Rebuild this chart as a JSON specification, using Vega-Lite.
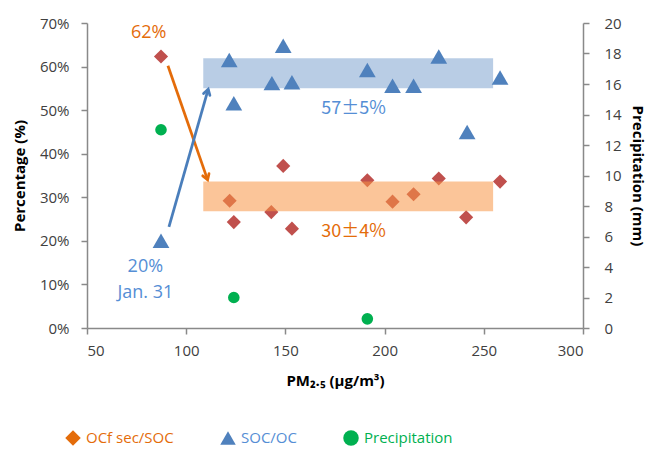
{
  "$schema": "https://vega.github.io/schema/vega-lite/v6.json",
  "width": 496,
  "height": 305,
  "autosize": "none",
  "padding": {"left": 87, "top": 23, "right": 66, "bottom": 122},
  "background": "white",
  "config": {
    "font": "Open Sans",
    "view": {"stroke": null},
    "axis": {
      "grid": false,
      "domainColor": "#898989",
      "domainWidth": 1.5,
      "tickColor": "#898989",
      "tickWidth": 1.5,
      "tickSize": 6,
      "labelFont": "Open Sans",
      "labelFontSize": 15,
      "labelColor": "#404040",
      "titleFont": "Open Sans",
      "titleFontSize": 15,
      "titleFontWeight": "bold",
      "titleColor": "#000000"
    }
  },
  "datasets": {
    "diamonds": [
      {"series": "OCf sec/SOC", "x": 87.3, "y": 0.623},
      {"series": "OCf sec/SOC", "x": 121.9, "y": 0.292},
      {"series": "OCf sec/SOC", "x": 124.0, "y": 0.243},
      {"series": "OCf sec/SOC", "x": 142.9, "y": 0.266},
      {"series": "OCf sec/SOC", "x": 148.9, "y": 0.372},
      {"series": "OCf sec/SOC", "x": 153.3, "y": 0.228},
      {"series": "OCf sec/SOC", "x": 191.3, "y": 0.339},
      {"series": "OCf sec/SOC", "x": 204.0, "y": 0.290},
      {"series": "OCf sec/SOC", "x": 214.6, "y": 0.307},
      {"series": "OCf sec/SOC", "x": 227.3, "y": 0.343},
      {"series": "OCf sec/SOC", "x": 241.1, "y": 0.254},
      {"series": "OCf sec/SOC", "x": 258.2, "y": 0.336}
    ],
    "triangles": [
      {"series": "SOC/OC", "x": 87.3, "y": 0.200},
      {"series": "SOC/OC", "x": 121.7, "y": 0.615},
      {"series": "SOC/OC", "x": 124.0, "y": 0.516},
      {"series": "SOC/OC", "x": 143.2, "y": 0.562},
      {"series": "SOC/OC", "x": 148.9, "y": 0.648},
      {"series": "SOC/OC", "x": 153.3, "y": 0.564},
      {"series": "SOC/OC", "x": 191.3, "y": 0.592},
      {"series": "SOC/OC", "x": 204.0, "y": 0.556},
      {"series": "SOC/OC", "x": 214.6, "y": 0.556},
      {"series": "SOC/OC", "x": 227.3, "y": 0.623},
      {"series": "SOC/OC", "x": 241.6, "y": 0.450},
      {"series": "SOC/OC", "x": 258.2, "y": 0.575}
    ],
    "precip": [
      {"series": "Precipitation", "x": 87.3, "y": 13.0},
      {"series": "Precipitation", "x": 124.0, "y": 2.0},
      {"series": "Precipitation", "x": 191.3, "y": 0.6}
    ],
    "bands": [
      {"band": "SOC/OC", "x": 108.6, "x2": 254.7, "y": 0.550, "y2": 0.619},
      {"band": "OCf sec/SOC", "x": 108.6, "x2": 254.7, "y": 0.268, "y2": 0.336}
    ],
    "arrows": [
      {"arrow": "orange", "x": 90.8, "y": 0.602, "x2": 110.8, "y2": 0.340},
      {"arrow": "blue", "x": 91.3, "y": 0.232, "x2": 111.1, "y2": 0.548}
    ],
    "heads": [
      {"arrow": "orange", "x": 110.8, "y": 0.340},
      {"arrow": "blue", "x": 111.1, "y": 0.548}
    ],
    "labels": [
      {"group": "orange", "kind": "plain", "text": "62%", "x": 81.1, "y": 0.677},
      {"group": "blue", "kind": "pm", "text": "57±5%", "x": 184.4, "y": 0.502},
      {"group": "orange", "kind": "pm", "text": "30±4%", "x": 184.4, "y": 0.220},
      {"group": "blue", "kind": "plain", "text": "20%", "x": 79.4, "y": 0.140},
      {"group": "blue", "kind": "plain", "text": "Jan. 31", "x": 79.4, "y": 0.081}
    ]
  },
  "encoding": {
    "x": {
      "field": "x",
      "type": "quantitative",
      "title": "PM₂.₅ (μg/m³)",
      "scale": {"domain": [50, 300], "nice": false, "zero": false},
      "axis": {"values": [50, 100, 150, 200, 250, 300], "labelPadding": 9, "titlePadding": 15}
    }
  },
  "layer": [
    {
      "encoding": {
        "y": {
          "field": "y",
          "type": "quantitative",
          "title": "Percentage (%)",
          "scale": {"domain": [0, 0.7], "nice": false},
          "axis": {"values": [0, 0.1, 0.2, 0.3, 0.4, 0.5, 0.6, 0.7], "format": ".0%", "labelPadding": 12, "titlePadding": 12}
        }
      },
      "layer": [
        {
          "data": {"name": "bands"},
          "transform": [{"filter": "datum.band === 'SOC/OC'"}],
          "mark": {"type": "rect", "fill": "#4F81BD", "opacity": 0.4},
          "encoding": {"x2": {"field": "x2"}, "y2": {"field": "y2"}}
        },
        {
          "data": {"name": "triangles"},
          "mark": {"type": "point", "filled": true, "opacity": 1, "size": 280},
          "encoding": {
            "color": {"field": "series", "type": "nominal",
              "scale": {"domain": ["OCf sec/SOC", "SOC/OC", "Precipitation"], "range": ["#E46C0A", "#4F81BD", "#00B050"]},
              "legend": {
                "title": null, "orient": "none", "legendX": -22, "legendY": 407, "direction": "horizontal",
                "symbolSize": 240, "symbolOpacity": 1, "labelFont": "Open Sans", "labelFontSize": 15, "labelOffset": 5, "columnPadding": 46,
                "symbolStrokeWidth": 0,
                "labelColor": {"expr": "datum.value === 'SOC/OC' ? '#558ED5' : datum.value === 'Precipitation' ? '#00B050' : '#E46C0A'"}
              }
            },
            "shape": {"field": "series", "type": "nominal",
              "scale": {"domain": ["OCf sec/SOC", "SOC/OC", "Precipitation"], "range": ["diamond", "triangle-up", "circle"]}}
          }
        },
        {
          "data": {"name": "diamonds"},
          "mark": {"type": "point", "filled": true, "opacity": 1, "size": 200, "fill": "#C0504D", "color": "#C0504D"},
          "encoding": {
            "shape": {"field": "series", "type": "nominal",
              "scale": {"domain": ["OCf sec/SOC", "SOC/OC", "Precipitation"], "range": ["diamond", "triangle-up", "circle"]}}
          }
        },
        {
          "data": {"name": "bands"},
          "transform": [{"filter": "datum.band === 'OCf sec/SOC'"}],
          "mark": {"type": "rect", "fill": "#F79646", "opacity": 0.55},
          "encoding": {"x2": {"field": "x2"}, "y2": {"field": "y2"}}
        },
        {
          "data": {"name": "arrows"},
          "transform": [{"filter": "datum.arrow === 'orange'"}],
          "mark": {"type": "rule", "color": "#E46C0A", "strokeWidth": 2.75},
          "encoding": {"x2": {"field": "x2"}, "y2": {"field": "y2"}}
        },
        {
          "data": {"name": "arrows"},
          "transform": [{"filter": "datum.arrow === 'blue'"}],
          "mark": {"type": "rule", "color": "#4A7EBB", "strokeWidth": 2.75},
          "encoding": {"x2": {"field": "x2"}, "y2": {"field": "y2"}}
        },
        {
          "data": {"name": "heads"},
          "transform": [{"filter": "datum.arrow === 'orange'"}],
          "mark": {"type": "point", "shape": "M-0.55,0.9L0,0L0.55,0.9", "filled": false, "stroke": "#E46C0A", "strokeWidth": 2.75, "opacity": 1, "size": 144, "angle": 161, "strokeCap": "round"}
        },
        {
          "data": {"name": "heads"},
          "transform": [{"filter": "datum.arrow === 'blue'"}],
          "mark": {"type": "point", "shape": "M-0.55,0.9L0,0L0.55,0.9", "filled": false, "stroke": "#4A7EBB", "strokeWidth": 2.75, "opacity": 1, "size": 144, "angle": 16, "strokeCap": "round"}
        },
        {
          "data": {"name": "labels"},
          "transform": [{"filter": "datum.group === 'orange' && datum.kind === 'plain'"}],
          "mark": {"type": "text", "font": "Open Sans", "fontSize": 18, "color": "#E46C0A", "align": "center", "baseline": "middle"},
          "encoding": {"text": {"field": "text"}}
        },
        {
          "data": {"name": "labels"},
          "transform": [{"filter": "datum.group === 'blue' && datum.kind === 'plain'"}],
          "mark": {"type": "text", "font": "Open Sans", "fontSize": 18, "color": "#558ED5", "align": "center", "baseline": "middle"},
          "encoding": {"text": {"field": "text"}}
        },
        {
          "data": {"name": "labels"},
          "transform": [{"filter": "datum.group === 'orange' && datum.kind === 'pm'"}],
          "mark": {"type": "text", "font": "Noto Sans CJK SC", "fontSize": 18, "color": "#E46C0A", "align": "center", "baseline": "middle"},
          "encoding": {"text": {"field": "text"}}
        },
        {
          "data": {"name": "labels"},
          "transform": [{"filter": "datum.group === 'blue' && datum.kind === 'pm'"}],
          "mark": {"type": "text", "font": "Noto Sans CJK SC", "fontSize": 18, "color": "#558ED5", "align": "center", "baseline": "middle"},
          "encoding": {"text": {"field": "text"}}
        }
      ]
    },
    {
      "data": {"name": "precip"},
      "mark": {"type": "point", "filled": true, "opacity": 1, "size": 135},
      "encoding": {
        "y": {
          "field": "y",
          "type": "quantitative",
          "title": "Precipitation (mm)",
          "scale": {"domain": [0, 20], "nice": false},
          "axis": {"orient": "right", "values": [0, 2, 4, 6, 8, 10, 12, 14, 16, 18, 20], "labelPadding": 15, "titlePadding": 8}
        },
        "color": {"field": "series", "type": "nominal",
          "scale": {"domain": ["OCf sec/SOC", "SOC/OC", "Precipitation"], "range": ["#E46C0A", "#4F81BD", "#00B050"]}},
        "shape": {"field": "series", "type": "nominal",
          "scale": {"domain": ["OCf sec/SOC", "SOC/OC", "Precipitation"], "range": ["diamond", "triangle-up", "circle"]}}
      }
    }
  ],
  "resolve": {"scale": {"y": "independent"}}
}
